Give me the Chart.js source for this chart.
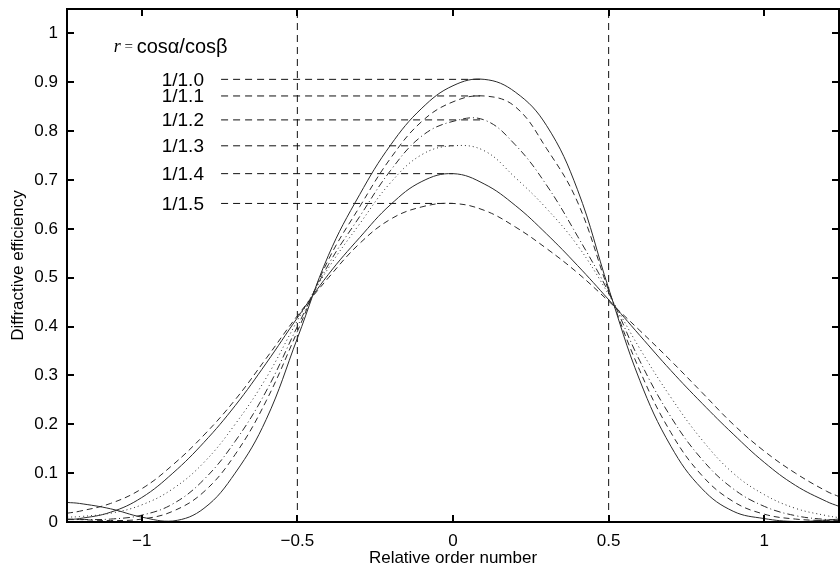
<!DOCTYPE html>
<html>
<head>
<meta charset="utf-8">
<script src="https://cdn.jsdelivr.net/npm/chart.js@4.4.1/dist/chart.umd.min.js"></script>
<style>
  html, body { margin: 0; padding: 0; background: #fff; }
  #wrap { width: 840px; height: 574px; }
</style>
</head>
<body>
<div id="wrap"><canvas id="chart"></canvas></div>
<script>
// relative order number (x) and efficiency for each r = cosA/cosB
const orderX = [-1.24, -1.2, -1.1, -1.0, -0.9, -0.8, -0.7, -0.6, -0.5, -0.4, -0.3, -0.2, -0.1, 0,
                0.1, 0.2, 0.3, 0.4, 0.5, 0.6, 0.7, 0.8, 0.9, 1.0, 1.1, 1.2, 1.24];
const eff10 = [0.040, 0.038, 0.027, 0.010, 0.002, 0.028, 0.100, 0.210, 0.376, 0.546, 0.670, 0.772, 0.847, 0.893,
               0.906, 0.880, 0.812, 0.680, 0.478, 0.290, 0.155, 0.068, 0.022, 0.007, 0.001, 0.004, 0.006];
const eff11 = [0.006, 0.005, 0.003, 0.006, 0.022, 0.062, 0.138, 0.248, 0.390, 0.537, 0.645, 0.745, 0.820, 0.860,
               0.872, 0.850, 0.765, 0.655, 0.474, 0.310, 0.183, 0.095, 0.042, 0.016, 0.006, 0.003, 0.003];
const eff12 = [0.005, 0.005, 0.006, 0.014, 0.037, 0.087, 0.165, 0.268, 0.400, 0.527, 0.625, 0.720, 0.790, 0.820,
               0.823, 0.772, 0.690, 0.585, 0.470, 0.330, 0.215, 0.128, 0.068, 0.032, 0.013, 0.005, 0.004];
const eff13 = [0.010, 0.011, 0.018, 0.035, 0.068, 0.122, 0.200, 0.295, 0.412, 0.520, 0.610, 0.695, 0.752, 0.770,
               0.760, 0.705, 0.642, 0.566, 0.466, 0.355, 0.255, 0.168, 0.100, 0.056, 0.028, 0.013, 0.009];
const eff14 = [0.005, 0.007, 0.020, 0.050, 0.100, 0.163, 0.238, 0.325, 0.418, 0.507, 0.582, 0.650, 0.697, 0.713,
               0.692, 0.648, 0.590, 0.525, 0.455, 0.382, 0.310, 0.243, 0.180, 0.122, 0.075, 0.042, 0.032];
const eff15 = [0.018, 0.022, 0.038, 0.068, 0.117, 0.178, 0.250, 0.335, 0.422, 0.500, 0.570, 0.620, 0.645, 0.652,
               0.638, 0.604, 0.560, 0.510, 0.452, 0.392, 0.330, 0.265, 0.200, 0.145, 0.100, 0.063, 0.052];

const seriesNames = ['1/1.0', '1/1.1', '1/1.2', '1/1.3', '1/1.4', '1/1.5'];
const seriesDash = [[], [6, 4], [7, 3, 1, 3], [1, 3], [], [6, 4]];
const xTicks = [-1, -0.5, 0, 0.5, 1];
const yTicks = [0, 0.1, 0.2, 0.3, 0.4, 0.5, 0.6, 0.7, 0.8, 0.9, 1];
const guideX = [-0.5, 0.5];

const allSeries = [eff10, eff11, eff12, eff13, eff14, eff15];
const leaderStartX = -0.745;
const labelX = -0.80;
const sans = '"Liberation Sans", Arial, Helvetica, sans-serif';

function fmt(v) {
    return String(v).replace('-', '\u2212');
}

const datasets = [];
allSeries.forEach((vals, i) => {
    datasets.push({
        label: seriesNames[i],
        data: orderX.map((x, k) => ({ x: x, y: vals[k] })),
        showLine: true,
        borderColor: '#2a2a2a',
        borderWidth: 1,
        borderDash: seriesDash[i],
        pointRadius: 0,
        tension: 0.4,
        fill: false
    });
});

// leader lines from each label to the peak of its curve
const peaks = allSeries.map(vals => {
    let k = 0;
    vals.forEach((v, j) => { if (v > vals[k]) k = j; });
    return { x: orderX[k], y: vals[k] };
});
peaks.forEach(p => {
    datasets.push({
        data: [{ x: leaderStartX, y: p.y }, { x: p.x, y: p.y }],
        showLine: true,
        borderColor: '#111',
        borderWidth: 1,
        borderDash: [7, 5],
        pointRadius: 0
    });
});
guideX.forEach(g => {
    datasets.push({
        data: [{ x: g, y: 0 }, { x: g, y: 1.05 }],
        showLine: true,
        borderColor: '#111',
        borderWidth: 1,
        borderDash: [7, 5],
        pointRadius: 0
    });
});

const framePlugin = {
    id: 'frame',
    afterDatasetsDraw(chart) {
        const ctx = chart.ctx;
        const a = chart.chartArea;
        const xs = chart.scales.x, ys = chart.scales.y;
        ctx.save();
        ctx.strokeStyle = '#000';
        ctx.lineWidth = 2;
        ctx.strokeRect(a.left, a.top, a.right - a.left, a.bottom - a.top);
        ctx.beginPath();
        xTicks.forEach(t => {
            const px = Math.round(xs.getPixelForValue(t));
            ctx.moveTo(px, a.bottom); ctx.lineTo(px, a.bottom - 7);
            ctx.moveTo(px, a.top); ctx.lineTo(px, a.top + 7);
        });
        yTicks.forEach(t => {
            const py = Math.round(ys.getPixelForValue(t));
            ctx.moveTo(a.left, py); ctx.lineTo(a.left + 7, py);
            ctx.moveTo(a.right, py); ctx.lineTo(a.right - 7, py);
        });
        ctx.stroke();

        // curve labels
        ctx.fillStyle = '#000';
        ctx.textAlign = 'right';
        ctx.textBaseline = 'middle';
        ctx.font = '19px ' + sans;
        peaks.forEach((p, i) => {
            ctx.fillText(seriesNames[i], xs.getPixelForValue(labelX), ys.getPixelForValue(p.y) + 1);
        });

        // r = cos(alpha)/cos(beta)
        let tx = xs.getPixelForValue(-1.09);
        const ty = ys.getPixelForValue(0.972);
        ctx.textAlign = 'left';
        ctx.font = 'italic 18px "Liberation Serif", "Times New Roman", serif';
        ctx.fillText('r', tx, ty);
        tx += ctx.measureText('r').width;
        ctx.font = '15px "Liberation Serif", "Times New Roman", serif';
        ctx.fillText(' = ', tx, ty);
        tx += ctx.measureText(' = ').width;
        ctx.font = '20px ' + sans;
        ctx.fillText('cos\u03B1/cos\u03B2', tx, ty);
        ctx.restore();
    }
};

new Chart(document.getElementById('chart'), {
    type: 'scatter',
    data: { datasets: datasets },
    options: {
        responsive: true,
        maintainAspectRatio: false,
        animation: false,
        layout: { padding: { top: 9, right: 1, left: 0, bottom: 0 } },
        plugins: { legend: { display: false }, tooltip: { enabled: false } },
        scales: {
            x: {
                type: 'linear',
                min: -1.24,
                max: 1.24,
                afterBuildTicks: s => { s.ticks = xTicks.map(v => ({ value: v })); },
                afterFit: s => { s.height = 52; s.paddingLeft = 0; s.paddingRight = 0; },
                grid: { display: false, drawTicks: false },
                border: { display: false },
                ticks: {
                    color: '#000',
                    padding: 9,
                    font: { family: sans, size: 17 },
                    callback: v => fmt(v)
                },
                title: {
                    display: true,
                    text: 'Relative order number',
                    color: '#000',
                    padding: { top: 0, bottom: 5 },
                    font: { family: sans, size: 17 }
                }
            },
            y: {
                type: 'linear',
                min: 0,
                max: 1.05,
                afterBuildTicks: s => { s.ticks = yTicks.map(v => ({ value: v })); },
                afterFit: s => { s.width = 67; s.paddingTop = 0; s.paddingBottom = 0; },
                grid: { display: false, drawTicks: false },
                border: { display: false },
                ticks: {
                    color: '#000',
                    padding: 9,
                    font: { family: sans, size: 17 },
                    callback: v => fmt(v)
                },
                title: {
                    display: true,
                    text: 'Diffractive efficiency',
                    color: '#000',
                    padding: { top: 8, bottom: 0 },
                    font: { family: sans, size: 17 }
                }
            }
        }
    },
    plugins: [framePlugin]
});
</script>
</body>
</html>
